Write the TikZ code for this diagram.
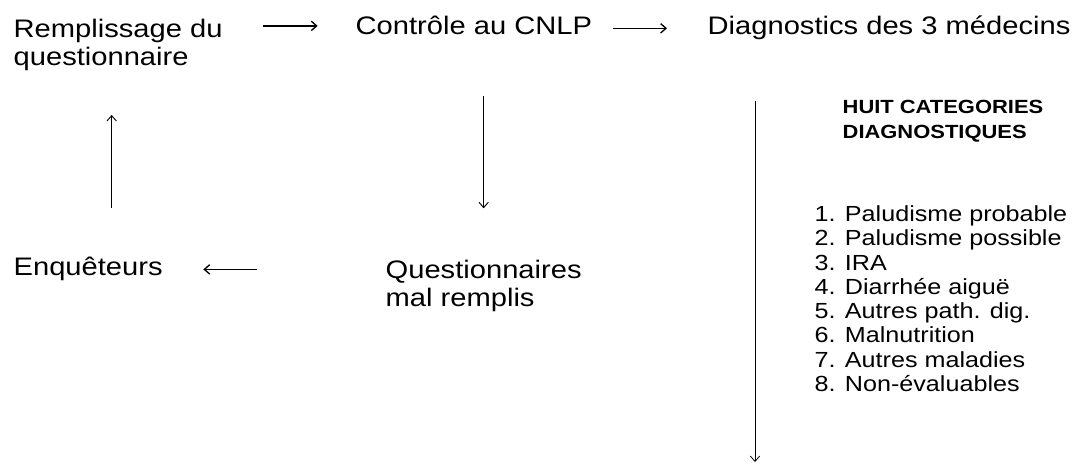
\documentclass[tikz,border=0pt]{standalone}
\usepackage{fontspec}
\setmainfont{Liberation Sans}[FakeStretch=1.15]
\usepackage{tikz}
\usetikzlibrary{positioning, arrows.meta, arrows}

\newcommand{\mainsize}{\fontsize{19pt}{21pt}\selectfont}
\newcommand{\listsize}{\fontsize{16.4pt}{18.2pt}\selectfont}
\newcommand{\headsize}{\fontsize{14.3pt}{18.75pt}\selectfont\bfseries}

\begin{document}
\begin{tikzpicture}[>={Straight Barb[length=4pt,width=7pt]},x=0.75pt,y=-0.75pt,line width=1pt,
    every node/.style={inner sep=0pt,align=left,font=\mainsize}]
    \useasboundingbox (0,0) rectangle (1078,470);

    \node[anchor=north west] (remp) at (13,18) {Remplissage du\\questionnaire};
    \node[anchor=base west] (ctrl) at (355,35) {Contrôle au CNLP};
    \node[anchor=base west] (diag) at (707,35) {Diagnostics des 3 médecins};
    \node[anchor=base west] (enq) at (13,276) {Enquêteurs};
    \node[anchor=north west] (mal) at (385,259) {Questionnaires\\mal remplis};
    \node[anchor=north west,font=\headsize] (huit) at (842,100) {HUIT CATEGORIES\\DIAGNOSTIQUES};
    \node[anchor=north west,font=\listsize] (cats) at (814,205) {1. Paludisme probable\\2. Paludisme possible\\3. IRA\\4. Diarrhée aiguë\\5. Autres path. dig.\\6. Malnutrition\\7. Autres maladies\\8. Non-évaluables};
    \coordinate (fin) at (755,462);

    \draw[->] (ctrl.west -| remp.east) -- (ctrl.west)
        [shorten <=30pt, shorten >=28pt];
    \draw[->] (diag.west -| ctrl.east) -- (diag.west)
        [shorten <=15pt, shorten >=30pt];
    \draw[->,line width=0.7pt] (ctrl.south -| mal.north) -- (mal.north)
        [shorten <=45pt, shorten >=38pt];
    \draw[->] (enq.east -| mal.west) -- (enq.east)
        [shorten <=96pt, shorten >=30pt];
    \draw[->,line width=0.7pt] ([xshift=74pt]enq.north west) -- ([xshift=74pt]remp.south west)
        [shorten <=37pt, shorten >=33pt];
    \draw[->,line width=0.6pt] (fin |- diag.south) -- (fin)
        [shorten <=45pt];
\end{tikzpicture}
\end{document}
